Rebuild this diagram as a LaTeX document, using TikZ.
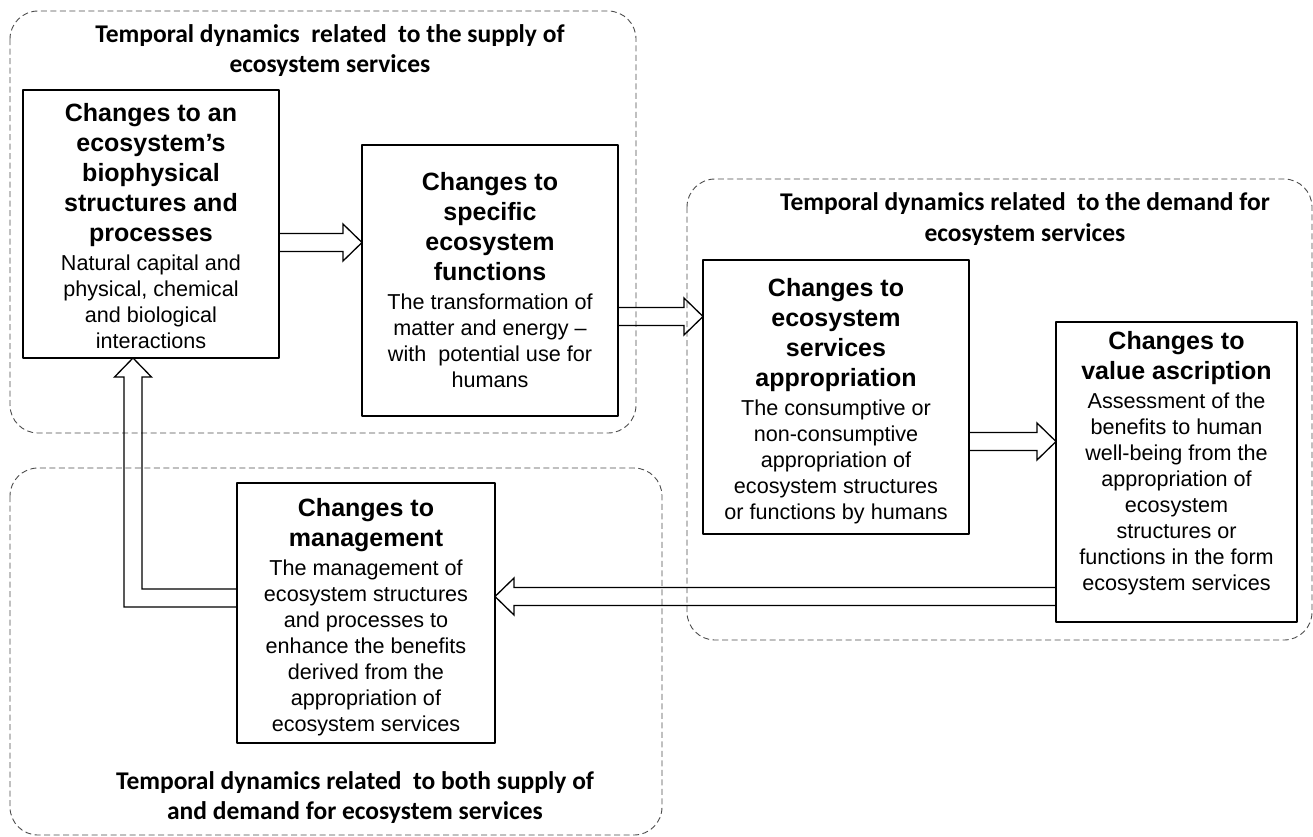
\documentclass[tikz,border=0pt]{standalone}
\usepackage{fontspec}
\setmainfont{Liberation Sans}
\newfontfamily\titlefont{Carlito}
\usetikzlibrary{calc}

\newcommand\hd{\fontsize{25}{30}\selectfont\bfseries}
\newcommand\bd{\fontsize{21.6}{26}\selectfont\mdseries}
% hollow block arrow from #1 to the tip #2
\newcommand\blockarrow[2]{%
  \coordinate (hb) at ($(#2)!19pt!(#1)$);
  \draw[blockarr] ($(#1)!9pt!90:(#2)$) -- ($(hb)!9pt!-90:(#1)$) -- ($(hb)!18.5pt!-90:(#1)$)
    -- (#2) -- ($(hb)!18.5pt!90:(#1)$) -- ($(hb)!9pt!90:(#1)$) -- ($(#1)!9pt!-90:(#2)$) -- cycle;}

\begin{document}
\begin{tikzpicture}[x=1pt, y=-1pt, line join=round,
  box/.style={draw, line width=1.3pt, inner sep=0pt, outer sep=0pt, align=flush center},
  frame/.style={draw=black!70, line width=0.9pt, dash pattern=on 6pt off 3.5pt, rounded corners=28pt},
  ttl/.style={align=center, inner sep=0pt, font=\titlefont\bfseries\fontsize{25.5}{30.5}\selectfont},
  blockarr/.style={draw, line width=1.3pt, line join=miter}]
  \useasboundingbox (0,0) rectangle (1313,836);

  % dashed groups
  \draw[frame] (10,11) rectangle (636,433);
  \draw[frame] (687,179) rectangle (1312,640);
  \draw[frame] (10,468) rectangle (662,835);

  \node[ttl] (supplyttl) at (330,50.5) {Temporal dynamics\ \ related\ \ to the supply of\\ ecosystem services};
  \node[ttl] (demandttl) at (1025,219) {Temporal dynamics related\ \ to the demand for\\ ecosystem services};
  \node[ttl] (bothttl) at (355,797.5) {Temporal dynamics related\ \ to both supply of\\ and demand for ecosystem services};

  % boxes
  \node[box, minimum width=256pt, minimum height=268pt, text width=250pt] (bio) at (151,224)
    {\hd\rule{0pt}{22pt}Changes to an\\ ecosystem’s\\ biophysical\\ structures and\\ processes\par\vspace{3pt}
     \bd Natural capital and\\ physical, chemical\\ and biological\\ interactions\par};
  \node[box, minimum width=256pt, minimum height=271pt, text width=250pt] (func) at (490,280.5)
    {\hd Changes to\\ specific\\ ecosystem\\ functions\par\vspace{3pt}
     \bd The transformation of\\ matter and energy --\\ with\ \ potential use for\\ humans\par};
  \node[box, minimum width=266pt, minimum height=274pt, text width=260pt] (approp) at (836,397)
    {\hd\rule{0pt}{26pt}Changes to\\ ecosystem\\ services\\ appropriation\par\vspace{3pt}
     \bd The consumptive or\\ non-consumptive\\ appropriation of\\ ecosystem structures\\ or functions by humans\par};
  \node[box, minimum width=241pt, minimum height=300pt, text width=237pt] (value) at (1176.5,472)
    {\hd Changes to\\ value ascription\par\vspace{3pt}
     \bd Assessment of the\\ benefits to human\\ well-being from the\\ appropriation of\\ ecosystem\\ structures or\\ functions in the form\\ ecosystem services\rule[-23pt]{0pt}{0pt}\par};
  \node[box, minimum width=258pt, minimum height=260pt, text width=252pt] (mgmt) at (366,613)
    {\hd\rule{0pt}{26pt}Changes to\\ management\par\vspace{3pt}
     \bd The management of\\ ecosystem structures\\ and processes to\\ enhance the benefits\\ derived from the\\ appropriation of\\ ecosystem services\par};

  % arrows
  \coordinate (a1) at ($(bio.east)+(0,18.5)$);
  \coordinate (b1) at (func.west |- a1);
  \blockarrow{a1}{b1}
  \coordinate (a2) at ($(func.east)+(0,36)$);
  \coordinate (b2) at (approp.west |- a2);
  \blockarrow{a2}{b2}
  \coordinate (a3) at ($(approp.east)+(0,44.5)$);
  \coordinate (b3) at (value.west |- a3);
  \blockarrow{a3}{b3}
  \coordinate (a4) at ($(value.west)+(0,124.5)$);
  \coordinate (b4) at (mgmt.east |- a4);
  \blockarrow{a4}{b4}
  % elbow back to the first box
  \coordinate (a5) at ($(mgmt.west)+(0,-15)$);
  \coordinate (b5) at ($(bio.south)+(-18,0)$);
  \coordinate (k5) at (b5 |- a5);
  \draw[blockarr] ($(a5)+(0,-9)$) -- ($(k5)+(9,-9)$) -- ($(b5)+(9,19)$) -- ($(b5)+(18.5,19)$) -- (b5)
    -- ($(b5)+(-18.5,19)$) -- ($(b5)+(-9,19)$) -- ($(k5)+(-9,9)$) -- ($(a5)+(0,9)$) -- cycle;
\end{tikzpicture}
\end{document}
